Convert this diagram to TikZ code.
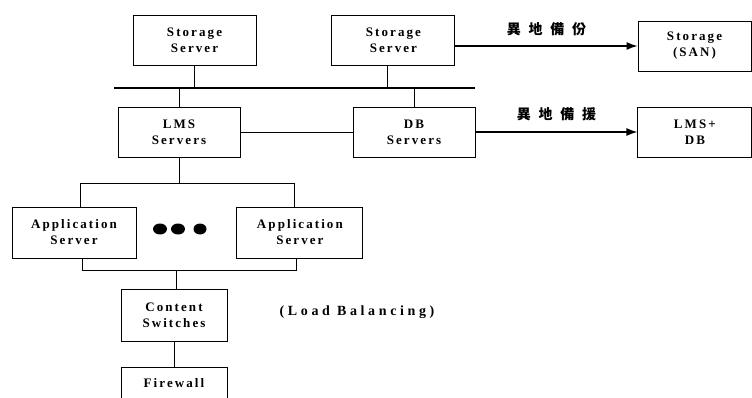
\documentclass[tikz,border=0pt]{standalone}
\usepackage{fontspec}
\setmainfont{Liberation Serif}[LetterSpace=16]
\newfontfamily\spaced{Liberation Serif}[LetterSpace=26]
\newfontfamily\cjk{Noto Sans CJK TC}[LetterSpace=55]
\usetikzlibrary{arrows.meta, positioning}

\begin{document}
\begin{tikzpicture}[
    x=1pt, y=1pt,
    node distance=26pt and 100pt,
    server/.style={
        rectangle,
        draw=black,
        line width=0.9pt,
        align=center,
        inner sep=0pt,
        minimum width=123pt,
        minimum height=50pt,
        font=\bfseries\fontsize{13}{16}\selectfont
    },
    bus/.style={line width=1.4pt},
    link/.style={line width=0.9pt},
    arrow/.style={-{Latex[length=11pt,width=8pt]}, line width=1.4pt},
    tag/.style={font=\cjk\bfseries\fontsize{14}{16}\selectfont}
]
\useasboundingbox (0,0) rectangle (752,-398);

% storage tier
\node[server] (ss1) at (194.5,-40) {Storage\\Server};
\node[server, right=75pt of ss1] (ss2) {Storage\\Server};
\node[server, minimum width=113pt] (san) at (694.5,-46) {Storage\\(SAN)};

\coordinate (busL) at (114,-88);
\coordinate (busR) at (475,-88);
\draw[bus] (busL) -- (busR);

% servers
\node[server, minimum width=122pt] (lms) at (179,-132) {LMS\\Servers};
\node[server, minimum width=122pt] (db) at (414,-132) {DB\\Servers};
\node[server, minimum width=114pt, right=162pt of db] (lmsdb) {LMS+\\DB};

% application tier
\node[server, minimum width=124pt, minimum height=51pt] (app1) at (74,-232.5) {Application\\Server};
\node[server, minimum width=126pt, minimum height=51pt, right=of app1] (app2) {Application\\Server};

\node[server, minimum width=106pt, minimum height=52pt] (cs) at (174,-315) {Content\\Switches};
\node[server, minimum width=106pt, below=of cs] (fw) {Firewall\\\strut};

\node[font=\spaced\bfseries\fontsize{14}{16}\selectfont] (lb) at (357,-312) {(Load Balancing)};

\coordinate (appL) at (80,-183);
\coordinate (appR) at (294,-183);
\coordinate (swL) at (82,-270);
\coordinate (swR) at (296,-270);

% to the bus
\draw[link] (ss1.south) -- (ss1.south |- busL);
\draw[link] ([xshift=-6pt]ss2.south) -- ([xshift=-6pt]ss2.south |- busL);
\draw[link] (lms.north |- busL) -- (lms.north);
\draw[link] (db.north |- busL) -- (db.north);
\draw[link] (lms.east) -- (db.west);

% remote backup
\draw[arrow] (ss2.east |- san.west) -- node[tag, above=6pt] {異地備份} (san.west);
\draw[arrow] (db.east) -- node[tag, above=7pt] {異地備援} (lmsdb.west);

% application fan out
\draw[link] (lms.south) -- (lms.south |- appL);
\draw[link] (appL) -- (appR);
\draw[link] (appL) -- (appL |- app1.north);
\draw[link] (appR) -- (appR |- app2.north);
\draw[link] (swL |- app1.south) -- (swL) -- (swR) -- (swR |- app2.south);
\draw[link] ([xshift=2pt]cs.north |- swL) -- ([xshift=2pt]cs.north);
\draw[link] (cs.south) -- (fw.north);

% more servers
\fill (160,-229) ellipse (7 and 5.5);
\fill (178,-229) ellipse (7 and 5.5);
\fill (200,-229) ellipse (6.5 and 5.5);

\end{tikzpicture}
\end{document}
